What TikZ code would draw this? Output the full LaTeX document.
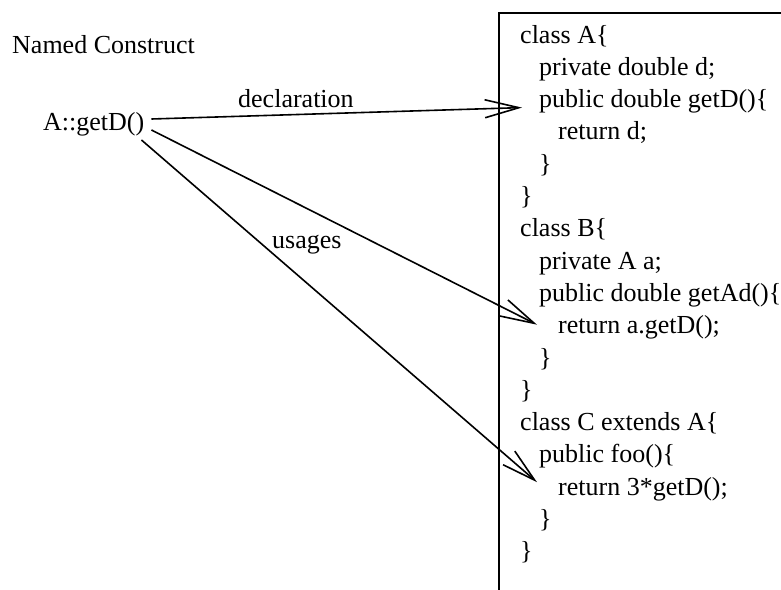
\documentclass[tikz,border=0pt]{standalone}
\usepackage{fontspec}
\setmainfont{Liberation Serif}
\usetikzlibrary{arrows.meta}
\tikzset{
  lbl/.style={anchor=base west,inner sep=0pt,font=\fontsize{26}{31}\selectfont},
  link/.style={line width=1.6pt,-{Straight Barb[length=34pt,width=18pt]}}
}
\begin{document}
\begin{tikzpicture}[x=1pt,y=-1pt]
\useasboundingbox (0,0) rectangle (781,589);
\clip (0,0) rectangle (781,589);
% source box, runs off the page on the right and bottom
\node[draw,line width=1.6pt,anchor=north west,minimum width=340pt,minimum height=620pt,inner sep=0pt] (codebox) at (498,12) {};
\foreach \ind/\txt [count=\i] in {0/class A\{, 1/private double d;, 1/public double getD()\{, 2/return d;, 1/\}, 0/\},
  0/class B\{, 1/private A a;, 1/public double getAd()\{, 2/return a.getD();, 1/\}, 0/\},
  0/class C extends A\{, 1/public foo()\{, 2/return 3*getD();, 1/\}, 0/\}}
  \node[lbl] (l\i) at ({520+19*\ind},{10.7+32.3*\i}) {\txt};
\node[lbl] (title) at (12,53) {Named Construct};
\node[lbl] (construct) at (43,130) {A::getD()};
\node[lbl] (decl) at (238,107) {declaration};
\node[lbl] (uses) at (272,248) {usages};
\draw[link] ([xshift=7pt,yshift=11pt]construct.base east) -- ([xshift=-17pt]l3.base west);
\draw[link] ([xshift=7pt]construct.base east) -- ([xshift=-21pt,yshift=9pt]l10.base west);
\draw[link] ([xshift=-3pt,yshift=-10pt]construct.base east) -- ([xshift=-21pt,yshift=13pt]l15.base west);
\end{tikzpicture}
\end{document}
